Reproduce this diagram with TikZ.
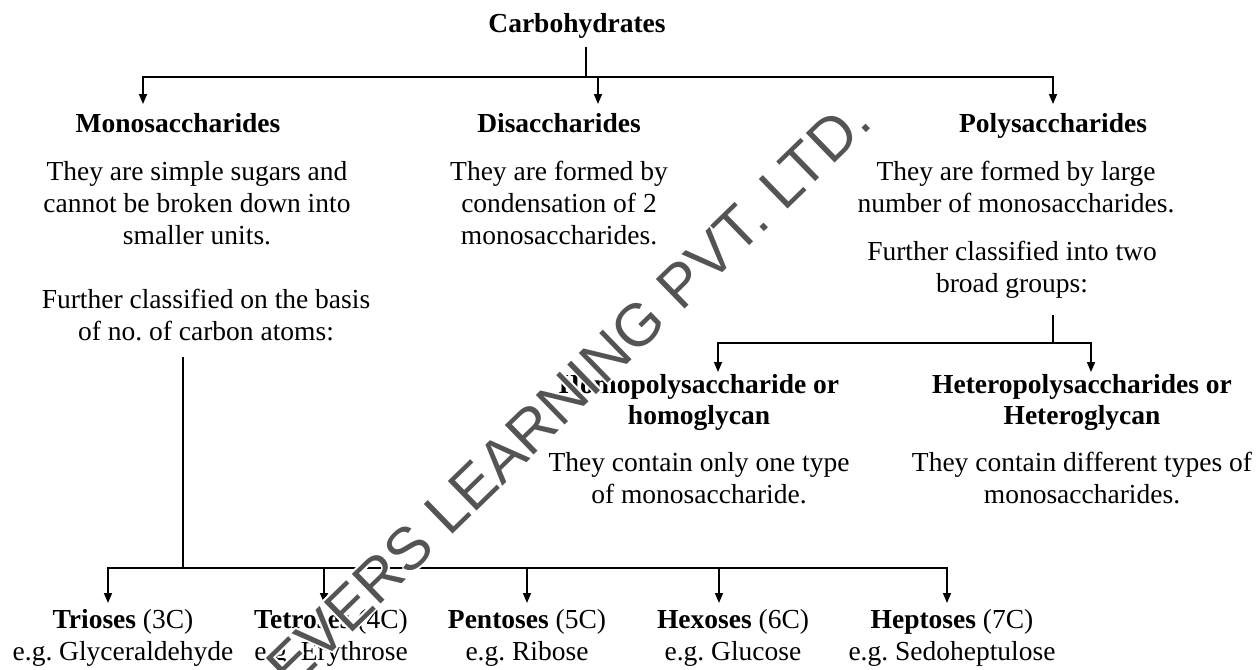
\documentclass[tikz,border=0pt]{standalone}
\usepackage{fontspec}
\setmainfont{Liberation Serif}
\newfontfamily\wmfont{Liberation Sans}
\usetikzlibrary{arrows.meta,calc}
\definecolor{wmgray}{gray}{0.33}
\begin{document}
\begin{tikzpicture}[x=1pt,y=1pt,
  every node/.style={inner sep=0pt, font=\fontsize{27.5}{32}\selectfont\frenchspacing},
  ln/.style={line width=1.6pt},
  arr/.style={line width=1.6pt, -{Triangle[length=10pt,width=8pt]}},
  hd/.style={font=\fontsize{27.5}{31}\selectfont\bfseries, align=center, anchor=base},
  txt/.style={align=center, anchor=base},
  wm/.style={font=\wmfont\fontsize{60}{60}\selectfont, rotate=44.2, anchor=base}]
\useasboundingbox (0,0) rectangle (1260,-669);
\fill[white] (0,0) rectangle (1260,-669);

% ---- top level
\node[hd] (carb) at (577,-33) {Carbohydrates};
\coordinate (cb) at (586,-47);
\coordinate (cj) at (586,-77);
\coordinate (mA) at (143,-104);
\coordinate (dS) at (598,-77);
\coordinate (dA) at (598,-104);
\coordinate (pA) at (1053,-104);
\draw[ln] (cb) -- (cj);
\draw[arr] (cj) -| (mA);
\draw[arr] (cj) -| (pA);
\draw[arr] (dS) -- (dA);

\node[hd] (mono) at (178,-132) {Monosaccharides};
\node[hd] (di) at (559,-132) {Disaccharides};
\node[hd] (poly) at (1053,-132) {Polysaccharides};

% anchor=base is the baseline of the last line
\node[txt] (monod) at (197,-244) {They are simple sugars and\\cannot be broken down into\\smaller units.};
\node[txt] (monof) at (206,-340) {Further classified on the basis\\of no. of carbon atoms:};
\node[txt] (did) at (559,-244) {They are formed by\\condensation of 2\\monosaccharides.};
\node[txt] (polyd) at (1016,-212) {They are formed by large\\number of monosaccharides.};
\node[txt] (polyf) at (1012,-292) {Further classified into two\\broad groups:};

% ---- polysaccharide branch
\coordinate (pv) at (1053,-315);
\coordinate (pj) at (1053,-343);
\coordinate (hoA) at (718,-372);
\coordinate (heA) at (1091,-372);
\draw[ln] (pv) -- (pj);
\draw[arr] (pj) -| (hoA);
\draw[arr] (pj) -| (heA);

\node[hd] (homo) at (699,-424) {Homopolysaccharide or\\homoglycan};
\node[hd] (hetero) at (1082,-424) {Heteropolysaccharides or\\Heteroglycan};
\node[txt] (homod) at (699,-503) {They contain only one type\\of monosaccharide.};
\node[txt] (heterod) at (1082,-503) {They contain different types of\\monosaccharides.};

% ---- monosaccharide branch
\coordinate (mv) at (183,-357);
\coordinate (mj) at (183,-568);
\coordinate (a1) at (108,-603);
\coordinate (a5) at (947,-603);
\draw[ln] (mv) -- (mj);
\draw[arr] (mj) -| (a1);
\draw[arr] (mj) -| (a5);
\foreach \x/\n in {324/a2,527/a3,719/a4}{
  \coordinate (\n s) at (\x,-568);
  \coordinate (\n) at (\x,-603);
  \draw[arr] (\n s) -- (\n);
}

\node[txt] (tri) at (123,-660) {\textbf{Trioses} (3C)\\e.g. Glyceraldehyde};
\node[txt] (tet) at (331,-660) {\textbf{Tetroses} (4C)\\e.g. Erythrose};
\node[txt] (pen) at (527,-660) {\textbf{Pentoses} (5C)\\e.g. Ribose};
\node[txt] (hex) at (733,-660) {\textbf{Hexoses} (6C)\\e.g. Glucose};
\node[txt] (hep) at (952,-660) {\textbf{Heptoses} (7C)\\e.g. Sedoheptulose};

% ---- watermark: grey letters with a thin white halo
\coordinate (wmc) at (583,-408);
\foreach \a in {0,30,...,330}{
  \node[wm, text=white] (wm\a) at ($(wmc)+(\a:1.8)$) {EVERS LEARNING PVT. LTD.};
}
\node[wm, text=wmgray] (wmark) at (wmc) {EVERS LEARNING PVT. LTD.};
\end{tikzpicture}
\end{document}
